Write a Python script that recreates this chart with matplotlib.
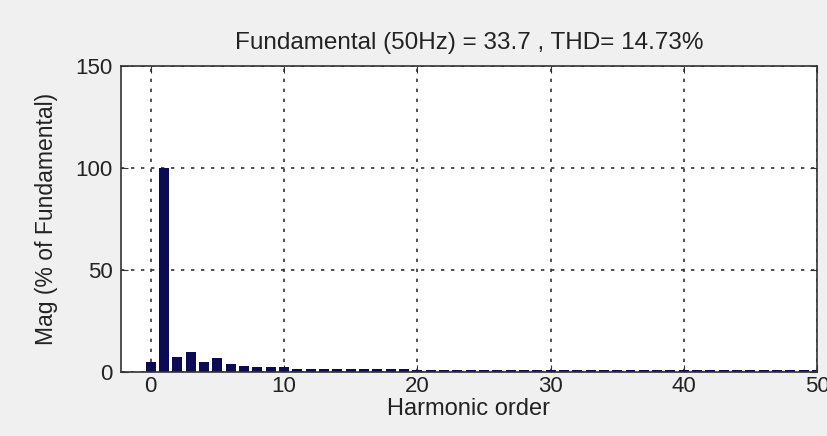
import matplotlib.pyplot as plt
import numpy as np

plt.rcParams['font.family'] = ['Liberation Sans', 'DejaVu Sans']

# harmonic spectrum, % of fundamental
harmonic_order = np.arange(0, 51)
mag = [5.0, 100.0, 7.5, 10.0, 5.0, 6.8, 4.0, 2.8, 2.6, 2.6,
       2.4, 1.6, 1.5, 1.5, 1.5, 1.5, 1.5, 1.4, 1.4, 1.2,
       1.0, 1.1, 1.0, 1.0, 1.0, 1.0, 1.0, 1.0, 1.0, 0.9,
       0.9, 0.9, 0.9, 0.9, 0.9, 0.9, 0.9, 0.9, 0.9, 0.8,
       0.8, 0.8, 0.8, 0.8, 0.8, 0.8, 0.8, 0.8, 0.8, 0.8, 0.8]
fundamental = 33.7
thd = 14.73

fig = plt.figure(figsize=(8.27, 4.36), dpi=100, facecolor='#f0f0f0')
ax = fig.add_axes([0.146, 0.147, 0.842, 0.702])
ax.bar(harmonic_order, mag, width=0.75, color='#0b0b55')

ax.set_xlim(-2.25, 50)
ax.set_ylim(0, 150)
ax.set_xticks([0, 10, 20, 30, 40, 50])
ax.set_yticks([0, 50, 100, 150])
ax.grid(True, color='#333333', linestyle=(0, (2, 4)), linewidth=1.2)
ax.set_axisbelow(True)
ax.tick_params(direction='in', labelsize=16, length=5, pad=3, top=True, right=True,
               color='#333333', labelcolor='#222222')
ax.tick_params(axis='y', pad=6)
for s in ax.spines.values():
    s.set_color('#333333')
    s.set_linewidth(1.2)

ax.set_title('Fundamental (50Hz) = %.1f , THD= %.2f%%' % (fundamental, thd),
             fontsize=17.5, pad=12, color='#222222')
ax.set_xlabel('Harmonic order', fontsize=17, labelpad=1, color='#222222')
ax.set_ylabel('Mag (% of Fundamental)', fontsize=16.5, labelpad=12, color='#222222')

fig.savefig('out.png', dpi=100, facecolor=fig.get_facecolor())
